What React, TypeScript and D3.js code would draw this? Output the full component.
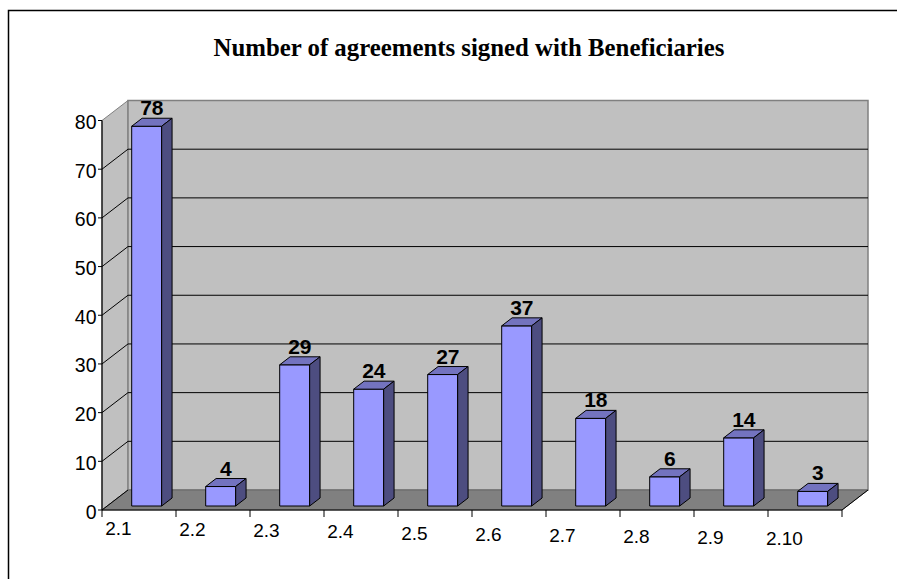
import React from 'react';
import * as d3 from 'd3';

// chart data
const categories = ['2.1', '2.2', '2.3', '2.4', '2.5', '2.6', '2.7', '2.8', '2.9', '2.10'];
const agreements = [78, 4, 29, 24, 27, 37, 18, 6, 14, 3];
const yTicks = [0, 10, 20, 30, 40, 50, 60, 70, 80];
const title = 'Number of agreements signed with Beneficiaries';

const W = 897;
const H = 579;
const plot = { left: 102, right: 842, bottom: 510, top: 120.5 };
const depth = { dx: 26, dy: -20 };
const barDepth = [0.2, 0.6];

function App() {
  const x = d3.scaleBand<string>()
    .domain(categories)
    .range([plot.left, plot.right])
    .padding(0);
  const y = d3.scaleLinear()
    .domain([0, 80])
    .range([plot.bottom, plot.top]);

  const bw = x.bandwidth();
  const barW = bw * 0.405;
  const barOff = bw * 0.331;
  const d0 = { x: depth.dx * barDepth[0], y: depth.dy * barDepth[0] };
  const d1 = { x: depth.dx * barDepth[1], y: depth.dy * barDepth[1] };

  const backL = plot.left + depth.dx;
  const backR = plot.right + depth.dx;
  const backTop = y(80) + depth.dy;
  const backBot = y(0) + depth.dy;

  const pts = (p: number[][]) => p.map(q => q.join(',')).join(' ');

  return (
    <svg width={W} height={H} style={{ position: 'absolute', left: 0, top: 0, display: 'block' }}
      fontFamily="Arial, 'Liberation Sans', sans-serif">
      <rect x={0} y={0} width={W} height={H} fill="#fff" />
      <rect x={8.5} y={10.5} width={W + 20} height={H + 20} fill="none" stroke="#000" strokeWidth={1.5} />

      <text x={469} y={56} textAnchor="middle" fontFamily="'Liberation Serif', 'Times New Roman', serif"
        fontWeight="bold" fontSize={24.8}>{title}</text>

      {/* walls */}
      <polygon points={pts([[plot.left, y(80)], [backL, backTop], [backL, backBot], [plot.left, y(0)]])}
        fill="#c0c0c0" stroke="#808080" strokeWidth={1} />
      <rect x={backL} y={backTop} width={backR - backL} height={backBot - backTop}
        fill="#c0c0c0" stroke="#808080" strokeWidth={1.5} />
      <polygon points={pts([[plot.left, y(0)], [plot.right, y(0)], [backR, backBot], [backL, backBot]])}
        fill="#808080" stroke="#666" strokeWidth={1} />

      {/* gridlines */}
      {yTicks.filter(t => t > 0 && t < 80).map(t => (
        <g key={'g' + t} stroke="#000" strokeWidth={1}>
          <line x1={plot.left} y1={y(t)} x2={backL} y2={y(t) + depth.dy} />
          <line x1={backL} y1={y(t) + depth.dy} x2={backR} y2={y(t) + depth.dy} />
        </g>
      ))}
      <line x1={plot.left} y1={y(0)} x2={backL} y2={backBot} stroke="#000" />
      <line x1={plot.right} y1={y(0)} x2={backR} y2={backBot} stroke="#000" />

      {/* axes */}
      <line x1={plot.left} y1={y(80)} x2={plot.left} y2={y(0)} stroke="#000" strokeWidth={1.2} />
      <line x1={plot.left} y1={y(0)} x2={plot.right} y2={y(0)} stroke="#000" strokeWidth={1.2} />
      {yTicks.map(t => (
        <g key={'y' + t}>
          <line x1={plot.left - 4} y1={y(t)} x2={plot.left} y2={y(t)} stroke="#000" />
          <text x={96.5} y={y(t) + 8.5} textAnchor="end" fontSize={19.5}>{t}</text>
        </g>
      ))}
      {categories.map((c, i) => (
        <line key={'xt' + c} x1={x(c)! + bw} y1={y(0)} x2={x(c)! + bw} y2={y(0) + 7} stroke="#000" />
      ))}
      <line x1={plot.left} y1={y(0)} x2={plot.left} y2={y(0) + 7} stroke="#000" />
      {categories.map((c, i) => (
        <text key={'xl' + c} x={x(c)! + bw * 0.222} y={535 + i * 1.15} textAnchor="middle" fontSize={19}>{c}</text>
      ))}

      {/* bars */}
      {agreements.map((v, i) => {
        const L = x(categories[i])! + barOff;
        const R = L + barW;
        const yt = y(v);
        const yb = y(0);
        return (
          <g key={'b' + i} stroke="#000" strokeWidth={1} strokeLinejoin="round">
            <rect x={L + d0.x} y={yt + d0.y} width={barW} height={yb - yt} fill="#9999ff" />
            <polygon points={pts([[L + d0.x, yt + d0.y], [R + d0.x, yt + d0.y], [R + d1.x, yt + d1.y], [L + d1.x, yt + d1.y]])}
              fill="#7373bf" />
            <polygon points={pts([[R + d0.x, yt + d0.y], [R + d1.x, yt + d1.y], [R + d1.x, yb + d1.y], [R + d0.x, yb + d0.y]])}
              fill="#4d4d80" />
            <text x={(L + R) / 2 + (d0.x + d1.x) / 2} y={yt + d1.y - 3} textAnchor="middle"
              fontWeight="bold" fontSize={21} stroke="none" fill="#000">{v}</text>
          </g>
        );
      })}
    </svg>
  );
}

export default App;
